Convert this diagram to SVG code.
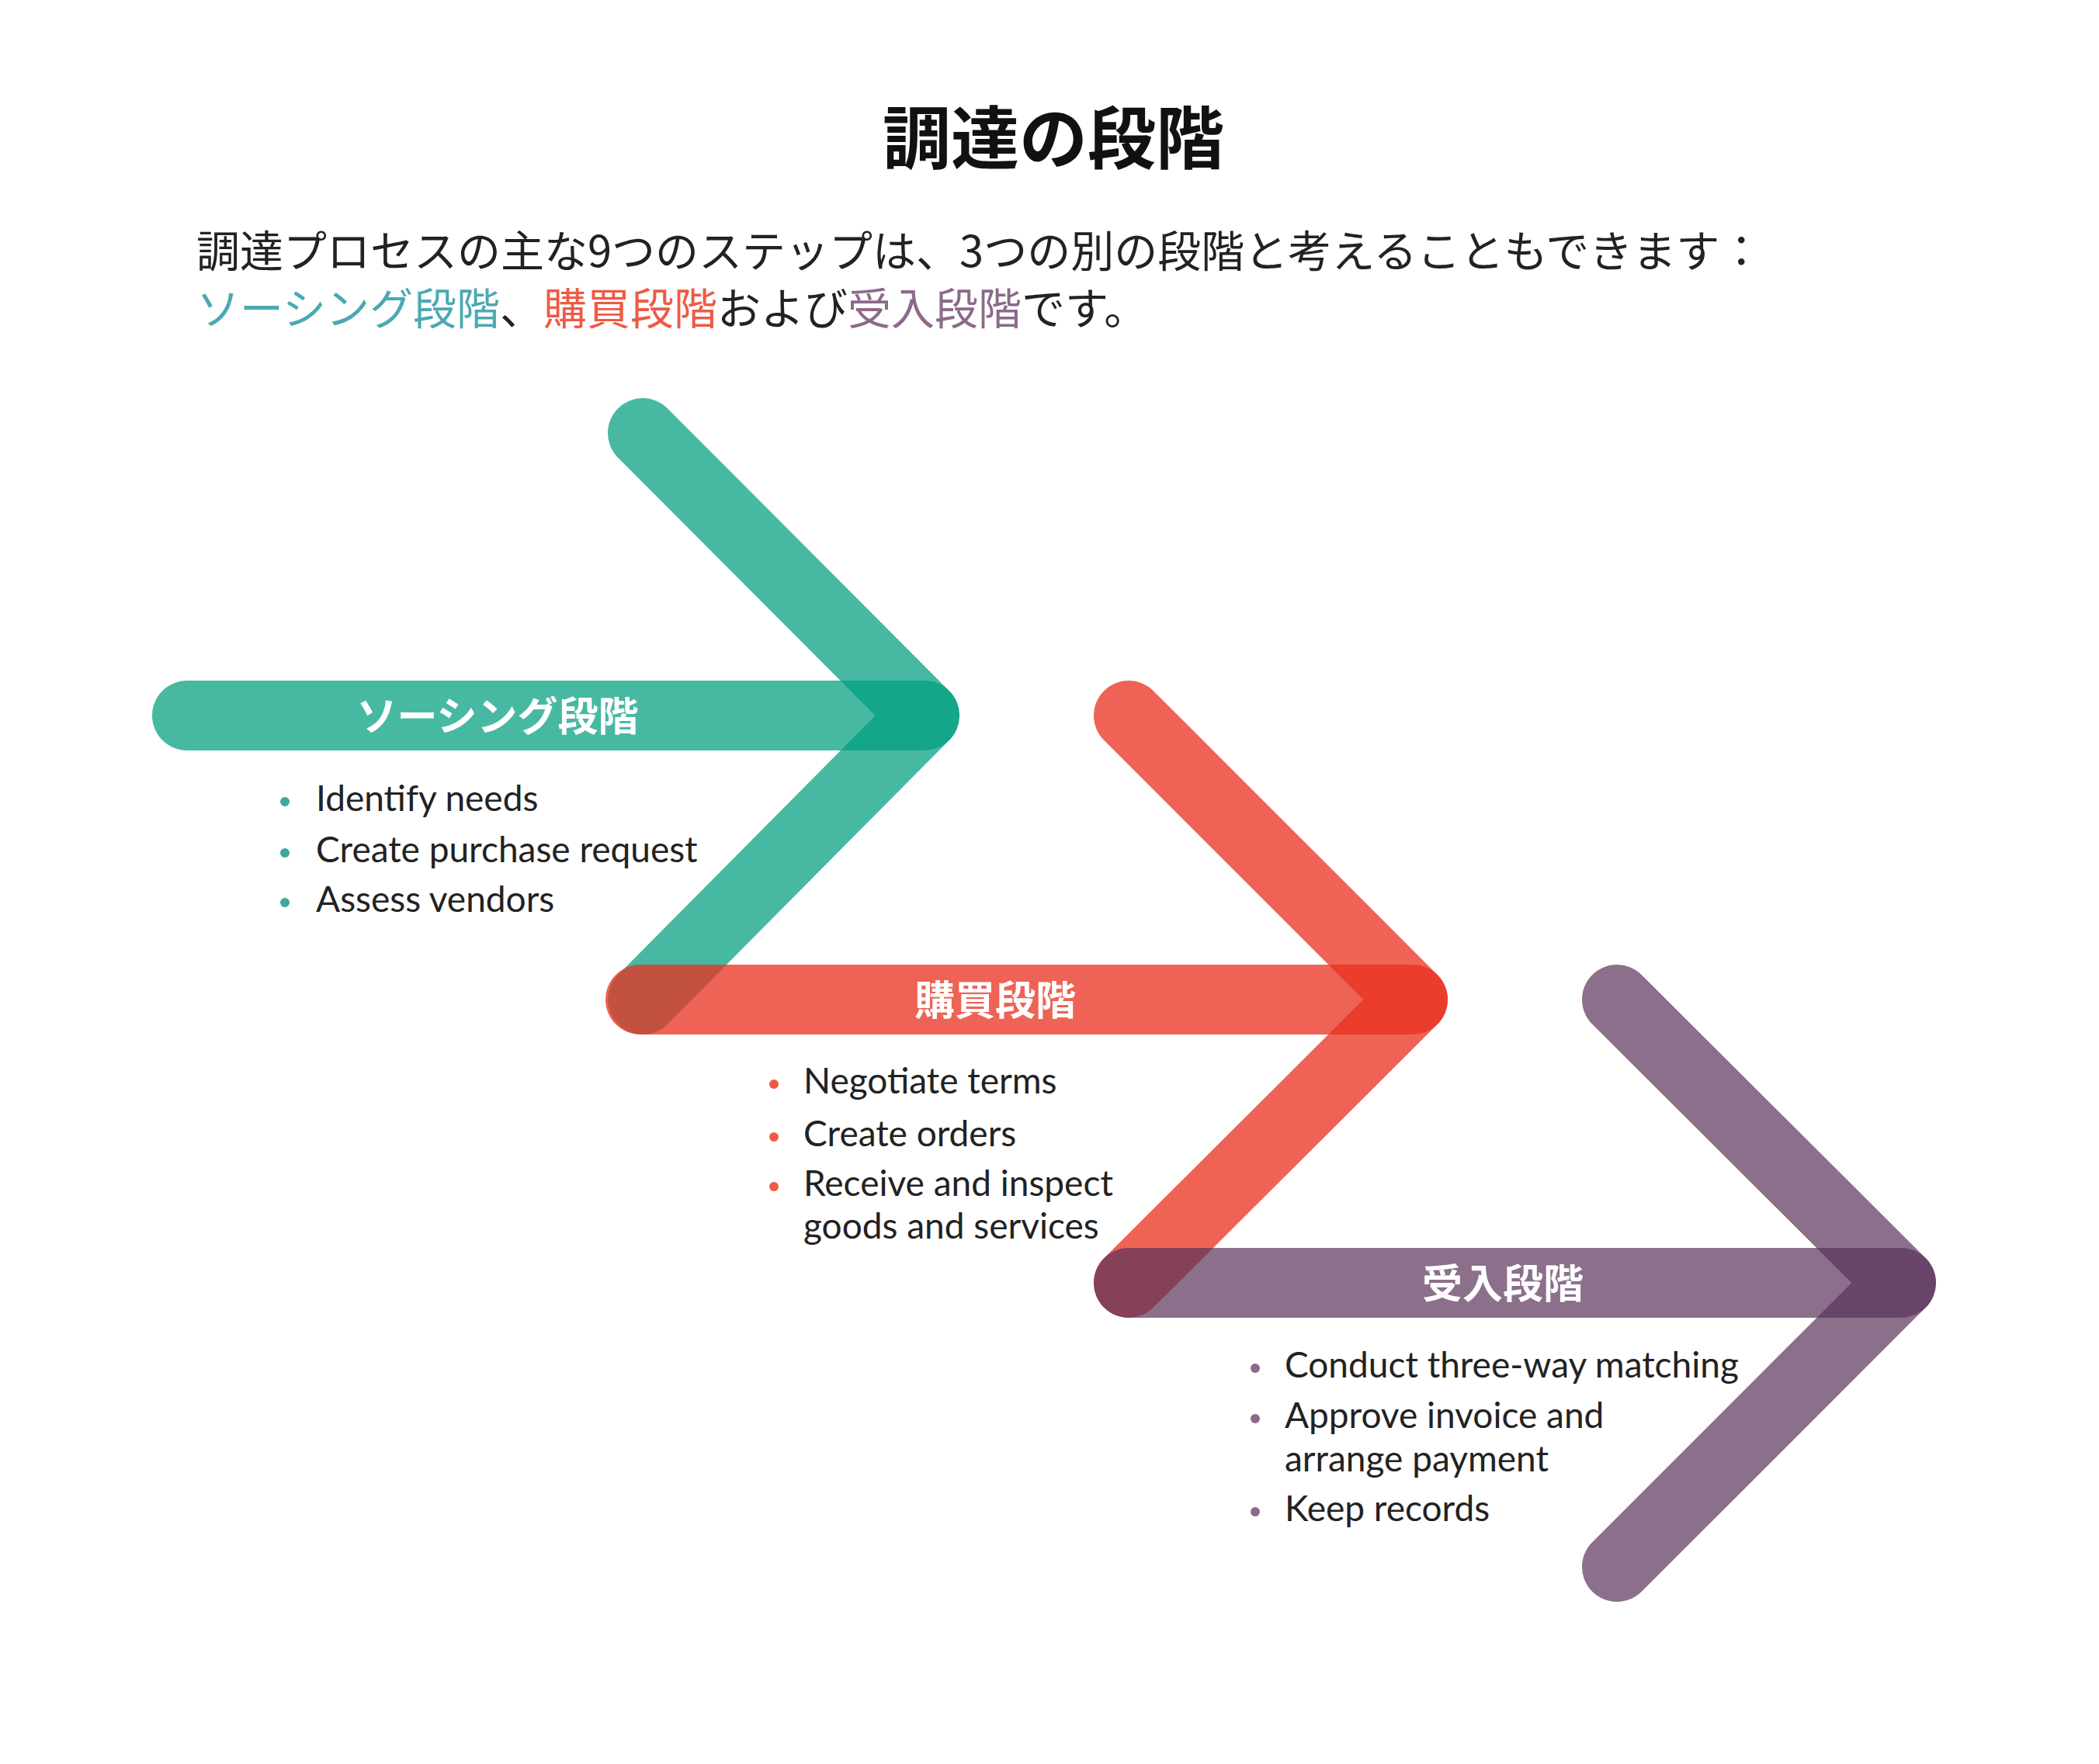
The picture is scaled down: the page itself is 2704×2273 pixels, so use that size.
<svg xmlns="http://www.w3.org/2000/svg" width="2704" height="2273" viewBox="0 0 2704 2273">
<style>
.s{fill:none;stroke-width:90;stroke-linecap:round;stroke-linejoin:round;opacity:0.72}
.t{stroke:#009E7E}.r{stroke:#E8321F;opacity:0.76}.p{stroke:#5A325A;opacity:0.7}
.jp{font-family:"Noto Sans CJK JP","Noto Sans",sans-serif}
.lab{font-family:"Noto Sans CJK JP",sans-serif;font-weight:bold;font-size:52px;fill:#fff;text-anchor:middle}
.li{font-family:Lato,"Open Sans",sans-serif;font-size:46px;fill:#222}
</style>
<rect width="2704" height="2273" fill="#fff"/>
<text x="1357" y="210" class="jp" font-size="88" font-weight="bold" text-anchor="middle" fill="#111">調達の段階</text>
<text x="253" y="344" class="jp" font-size="56" fill="#222">調達プロセスの主な9つのステップは、3つの別の段階と考えることもできます：</text>
<text x="253" y="418" class="jp" font-size="56" fill="#222"><tspan fill="#4AA9B2">ソーシング段階</tspan>、<tspan fill="#EE5A45">購買段階</tspan>および<tspan fill="#8C6A8A">受入段階</tspan>です。</text>
<g id="connectors">
<path class="s t" d="M241 922H1191"/>
<path class="s t" d="M828 558L1191 922L828 1288"/>
<path class="s r" d="M825 1288H1820"/>
<path class="s r" d="M1454 922L1820 1288L1454 1653"/>
<path class="s p" d="M1454 1653H2449"/>
<path class="s p" d="M2083 1288L2449 1653L2083 2019"/>
</g>
<g id="sourcing">
<text x="641" y="942" class="lab">ソーシング段階</text>
<g fill="#3FA89A"><circle cx="367" cy="1033" r="6"/><circle cx="367" cy="1099" r="6"/><circle cx="367" cy="1163" r="6"/></g>
<text class="li" x="407" y="1045">Identify needs</text>
<text class="li" x="407" y="1111">Create purchase request</text>
<text class="li" x="407" y="1175">Assess vendors</text>
</g>
<g id="purchasing">
<text x="1282" y="1308" class="lab">購買段階</text>
<g fill="#EE5A45"><circle cx="997" cy="1397" r="6"/><circle cx="997" cy="1465" r="6"/><circle cx="997" cy="1529" r="6"/></g>
<text class="li" x="1035" y="1409">Negotiate terms</text>
<text class="li" x="1035" y="1477">Create orders</text>
<text class="li" x="1035" y="1541">Receive and inspect</text>
<text class="li" x="1035" y="1596">goods and services</text>
</g>
<g id="receiving">
<text x="1936" y="1673" class="lab">受入段階</text>
<g fill="#8C6A8A"><circle cx="1617" cy="1763" r="6"/><circle cx="1617" cy="1828" r="6"/><circle cx="1617" cy="1948" r="6"/></g>
<text class="li" x="1655" y="1775">Conduct three-way matching</text>
<text class="li" x="1655" y="1840">Approve invoice and</text>
<text class="li" x="1655" y="1896">arrange payment</text>
<text class="li" x="1655" y="1960">Keep records</text>
</g>
</svg>
